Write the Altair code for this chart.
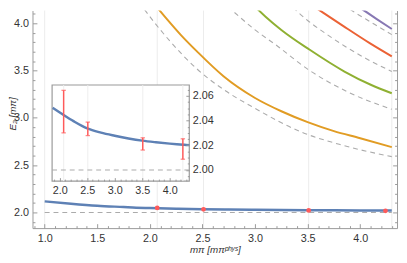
import altair as alt
import pandas as pd

# ---------------- data ----------------
BLUE_X = [1.0, 1.25, 1.5, 1.75, 1.87, 2.0, 2.25, 2.5, 2.75, 3.0, 3.25, 3.5, 3.75, 4.0, 4.25, 4.30, 4.36]
BLUE_E = [2.117, 2.092, 2.071, 2.057, 2.0502, 2.0465, 2.0395, 2.0336, 2.0302, 2.0277, 2.0255,
          2.0237, 2.0224, 2.0213, 2.0204, 2.0202, 2.0201]

ORANGE_X = [2.03, 2.15, 2.3, 2.45, 2.7, 3.0, 3.25, 3.5, 3.75, 4.0, 4.30]
ORANGE_E = [4.22, 4.06, 3.87, 3.70, 3.44, 3.21, 3.07, 2.955, 2.86, 2.785, 2.69]
GREEN_X = [2.95, 3.1, 3.25, 3.52, 3.85, 4.1, 4.30]
GREEN_E = [4.23, 4.07, 3.93, 3.72, 3.49, 3.35, 3.26]
RED_X = [3.49, 3.65, 3.84, 4.09, 4.30]
RED_E = [4.23, 4.11, 3.97, 3.79, 3.65]
PURPLE_X = [3.87, 4.03, 4.15, 4.30]
PURPLE_E = [4.25, 4.14, 4.05, 3.94]

FREE1_X = [1.90, 2.0, 2.2, 2.445, 2.7, 3.0, 3.44, 3.8, 4.30]
FREE1_E = [4.22, 4.07, 3.80, 3.52, 3.30, 3.10, 2.85, 2.72, 2.59]
FREE2_X = [2.68, 2.85, 3.0, 3.2, 3.5, 3.87, 4.30]
FREE2_E = [4.24, 4.07, 3.93, 3.77, 3.515, 3.28, 3.09]
FREE3_X = [3.30, 3.5, 3.7, 3.85, 4.05, 4.30]
FREE3_E = [4.23, 4.03, 3.87, 3.76, 3.63, 3.49]
FREE4_X = [3.77, 3.9, 4.06, 4.18, 4.30]
FREE4_E = [4.26, 4.15, 4.04, 3.96, 3.88]
THRESH_X = [1.0, 4.30]
THRESH_E = [2.0, 2.0]

PT_X = [2.07, 2.51, 3.51, 4.24]
PT_E = [2.0472, 2.0333, 2.0211, 2.0170]
PT_LO = [2.0300, 2.0278, 2.0161, 2.0087]
PT_HI = [2.0644, 2.0387, 2.0260, 2.0252]

MAIN_GRID_X = [1.0, 2.07, 2.51, 3.51, 4.30]
INSET_GRID_X = [2.07, 2.51, 3.51, 4.24]

# ticks
X_MAJOR = [1.0, 1.5, 2.0, 2.5, 3.0, 3.5, 4.0]
X_MINOR = [round(0.9 + 0.1 * i, 1) for i in range(35)]
Y_MAJOR = [2.0, 2.5, 3.0, 3.5, 4.0]
Y_MINOR = [round(1.9 + 0.1 * i, 1) for i in range(23)]
IX_MAJOR = [2.0, 2.5, 3.0, 3.5, 4.0]
IX_MINOR = [round(1.9 + 0.1 * i, 1) for i in range(25)]
IY_MAJOR = [2.00, 2.02, 2.04, 2.06]
IY_MINOR = [round(1.995 + 0.005 * i, 3) for i in range(15)]

# ---------------- layout ----------------
W, H = 372, 222
MX_DOM = [0.884, 4.35]
MY_DOM = [1.8342, 4.1347]
IX_DOM = [1.86, 4.357]
IY_DOM = [1.991, 2.0687]
IX_RANGE = [20, 160]
IY_RANGE = [174, 76]

FONT = "Liberation Sans"
GRAY = "#9a9a9a"
LAB = "#333333"
BLUE = "#5E81B5"
ERRC = "#FF5A5A"
DASHC = "#ababab"

HALF = "abs(datum.value*2 - round(datum.value*2)) < 0.001"
FIFTIETH = "abs(datum.value*50 - round(datum.value*50)) < 0.001"


def mx():
    return alt.Scale(domain=MX_DOM, nice=False, zero=False)


def my():
    return alt.Scale(domain=MY_DOM, nice=False, zero=False)


def ix():
    return alt.Scale(domain=IX_DOM, range=IX_RANGE, nice=False, zero=False)


def iy():
    return alt.Scale(domain=IY_DOM, range=IY_RANGE, nice=False, zero=False)


def tick_axis(orient, offset, values, test, major=4.5, minor=2.5, domain=False):
    return alt.Axis(orient=orient, offset=offset, values=values, labels=False, title=None,
                    grid=False, domain=domain, domainColor=GRAY, domainWidth=1,
                    ticks=True, tickColor=GRAY, tickWidth=1,
                    tickSize={"condition": {"test": test, "value": major}, "value": minor},
                    zindex=2)


def label_axis(orient, offset, values, fmt, pad, title=None, **kw):
    args = dict(orient=orient, offset=offset, values=values, format=fmt, ticks=False, tickSize=0,
                domain=title is not None, domainColor=GRAY, domainWidth=1, grid=False,
                labelFont=FONT, labelFontSize=11, labelColor=LAB, labelPadding=pad,
                labelFlush=False, labelOverlap=False, labelBound=False, zindex=2)
    if title is not None:
        args.update(title=title, titleFont=FONT, titleFontSize=10, titleFontWeight="normal",
                    titleFontStyle="italic", titleColor=LAB, **kw)
    else:
        args.update(title=None)
    return alt.Axis(**args)


AX_BOTTOM_LABELS = label_axis("bottom", 0, X_MAJOR, ".1f", 5, title="mπ [mπᵖʰʸˢ]",
                              titleY=22, titleBaseline="middle")
AX_LEFT_LABELS = label_axis("left", 0, Y_MAJOR, ".1f", 4, title="E₂ [mπ]",
                            titleX=-17.5, titleY=105, titleAngle=270, titleBaseline="alphabetic",
                            titleAlign="center")
AX_BOTTOM_TICKS = tick_axis("top", -H, X_MINOR, HALF)
AX_LEFT_TICKS = tick_axis("right", -W, Y_MINOR, HALF)
AX_RIGHT_FRAME = tick_axis("left", -W, Y_MINOR, HALF, domain=True)
AX_IN_BOTTOM_LABELS = label_axis("bottom", IY_RANGE[0] - H, IX_MAJOR, ".1f", 4)
AX_IN_RIGHT_LABELS = label_axis("right", IX_RANGE[1] - W, IY_MAJOR, ".2f", 3)
AX_IN_BOTTOM_TICKS = tick_axis("top", -IY_RANGE[0], IX_MINOR, HALF, major=3.5, minor=2)
AX_IN_RIGHT_TICKS = tick_axis("left", -IX_RANGE[1], IY_MINOR, FIFTIETH, major=3.5, minor=2)


def curves(pairs):
    rows = []
    for name, xs, es in pairs:
        for x, e in zip(xs, es):
            rows.append({"s": name, "x": x, "E": e})
    return pd.DataFrame(rows)


df_free = curves([("f1", FREE1_X, FREE1_E), ("f2", FREE2_X, FREE2_E), ("f3", FREE3_X, FREE3_E),
                  ("f4", FREE4_X, FREE4_E), ("thr", THRESH_X, THRESH_E)])
df_col = curves([("orange", ORANGE_X, ORANGE_E), ("green", GREEN_X, GREEN_E),
                 ("red", RED_X, RED_E), ("purple", PURPLE_X, PURPLE_E)])
df_blue = pd.DataFrame({"x": BLUE_X, "E": BLUE_E})
df_pts = pd.DataFrame({"x": PT_X, "E": PT_E, "lo": PT_LO, "hi": PT_HI})
df_gmain = pd.DataFrame({"x": MAIN_GRID_X})
df_gin = pd.DataFrame({"x": INSET_GRID_X, "lo": [IY_DOM[0]] * len(INSET_GRID_X),
                       "hi": [IY_DOM[1]] * len(INSET_GRID_X)})
df_box = pd.DataFrame({"x0": [IX_DOM[0]], "x1": [IX_DOM[1]], "y0": [IY_DOM[0]], "y1": [IY_DOM[1]]})
df_ithr = pd.DataFrame({"x": IX_DOM, "E": [2.0, 2.0]})
df_caps = pd.DataFrame({"x": PT_X + PT_X, "v": PT_LO + PT_HI})

# ---------------- main plot ----------------
grid_main = alt.Chart(df_gmain).mark_rule(color="#ececec", strokeWidth=1).encode(
    x=alt.X("x:Q", scale=mx(), axis=AX_BOTTOM_LABELS))

free = alt.Chart(df_free).mark_line(color=DASHC, strokeWidth=1.1, strokeDash=[5, 4],
                                    interpolate="monotone", clip=True).encode(
    x=alt.X("x:Q", scale=mx(), axis=AX_BOTTOM_TICKS),
    y=alt.Y("E:Q", scale=my(), axis=AX_LEFT_LABELS),
    detail="s:N")

colored = alt.Chart(df_col).mark_line(strokeWidth=2, interpolate="monotone", clip=True).encode(
    x=alt.X("x:Q", scale=mx(), axis=None),
    y=alt.Y("E:Q", scale=my(), axis=AX_LEFT_TICKS),
    color=alt.Color("s:N", legend=None,
                    scale=alt.Scale(domain=["orange", "green", "red", "purple"],
                                    range=["#E19C24", "#8FB032", "#EB6235", "#8778B3"])))

blue_main = alt.Chart(df_blue).transform_filter("datum.x <= 4.305").mark_line(
    color=BLUE, strokeWidth=2.5, interpolate="monotone", clip=True).encode(
    x=alt.X("x:Q", scale=mx(), axis=None),
    y=alt.Y("E:Q", scale=my(), axis=AX_RIGHT_FRAME))

err_main = alt.Chart(df_pts).mark_rule(color=ERRC, strokeWidth=1).encode(
    x=alt.X("x:Q", scale=mx(), axis=None),
    y=alt.Y("lo:Q", scale=my(), axis=None), y2="hi:Q")

pts_main = alt.Chart(df_pts).mark_circle(color=ERRC, size=24, opacity=1).encode(
    x=alt.X("x:Q", scale=mx(), axis=None),
    y=alt.Y("E:Q", scale=my(), axis=None))

# ---------------- inset ----------------
box = alt.Chart(df_box).mark_rect(fill="white", stroke=GRAY, strokeWidth=1.2).encode(
    x=alt.X("x0:Q", scale=ix(), axis=AX_IN_BOTTOM_LABELS), x2="x1:Q",
    y=alt.Y("y0:Q", scale=iy(), axis=AX_IN_RIGHT_LABELS), y2="y1:Q")

grid_in = alt.Chart(df_gin).mark_rule(color="#eeeeee", strokeWidth=1).encode(
    x=alt.X("x:Q", scale=ix(), axis=AX_IN_BOTTOM_TICKS),
    y=alt.Y("lo:Q", scale=iy(), axis=AX_IN_RIGHT_TICKS), y2="hi:Q")

thr_in = alt.Chart(df_ithr).mark_line(color=DASHC, strokeWidth=1.1, strokeDash=[5, 4]).encode(
    x=alt.X("x:Q", scale=ix(), axis=None),
    y=alt.Y("E:Q", scale=iy(), axis=None))

blue_in = alt.Chart(df_blue).transform_filter("datum.x >= 1.86").mark_line(
    color=BLUE, strokeWidth=2.5, interpolate="monotone").encode(
    x=alt.X("x:Q", scale=ix(), axis=None),
    y=alt.Y("E:Q", scale=iy(), axis=None))

err_in = alt.Chart(df_pts).mark_rule(color=ERRC, strokeWidth=1.5).encode(
    x=alt.X("x:Q", scale=ix(), axis=None),
    y=alt.Y("lo:Q", scale=iy(), axis=None), y2="hi:Q")

caps_in = alt.Chart(df_caps).mark_tick(color=ERRC, orient="horizontal", size=4.5, thickness=1.3).encode(
    x=alt.X("x:Q", scale=ix(), axis=None),
    y=alt.Y("v:Q", scale=iy(), axis=None))

chart = alt.layer(
    grid_main, free, colored, blue_main, err_main, pts_main,
    box, grid_in, thr_in, blue_in, err_in, caps_in
).resolve_scale(
    x="independent", y="independent"
).properties(
    width=W, height=H,
    autosize=alt.AutoSizeParams(type="none"),
    padding={"left": 25, "top": 0, "right": 2, "bottom": 33},
    background="white",
).configure_view(stroke=None)

chart.save("out.html", embed_options={"renderer": "svg", "actions": False})
